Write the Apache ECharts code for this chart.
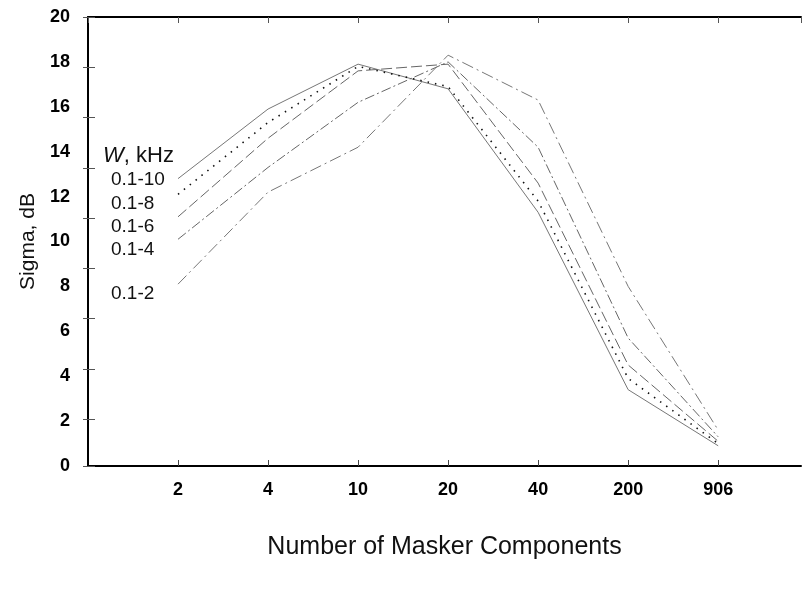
<!DOCTYPE html>
<html>
<head>
<meta charset="utf-8">
<script src="https://cdn.jsdelivr.net/npm/echarts@6/dist/echarts.min.js"></script>
<style>
html,body{margin:0;padding:0;background:#fff;}
#chart{width:802px;height:598px;}
</style>
</head>
<body>
<div id="chart"></div>
<script>
// ---- data ----
const categories = ['2', '4', '10', '20', '40', '200', '906'];
const yTicks = [0, 2, 4, 6, 8, 10, 12, 14, 16, 18, 20];
const seriesNames = ['0.1-10', '0.1-8', '0.1-6', '0.1-4', '0.1-2'];
const s_0_1_10 = [12.8, 15.9, 17.9, 16.8, 11.3, 3.4, 0.9];
const s_0_1_8  = [12.1, 15.3, 17.8, 16.9, 11.8, 3.9, 1.0];
const s_0_1_6  = [11.1, 14.6, 17.6, 17.9, 12.6, 4.5, 1.1];
const s_0_1_4  = [10.1, 13.3, 16.2, 18.0, 14.2, 5.7, 1.3];
const s_0_1_2  = [8.1, 12.2, 14.2, 18.3, 16.3, 8.0, 1.6];
const seriesValues = [s_0_1_10, s_0_1_8, s_0_1_6, s_0_1_4, s_0_1_2];

// ---- build ----
const xMax = 7.92;   // axis runs a little past the last category
const frameTicksMax = 8.93; // secondary (frame) tick scale used on left/right edges
const styles = [
  { color: '#777', type: 'solid', width: 1 },
  { color: '#111', type: [1.5, 6], width: 1.6 },
  { color: '#666', type: [11, 4], width: 1 },
  { color: '#666', type: [10, 3, 2, 3], width: 1 },
  { color: '#777', type: [12, 4, 2, 4], width: 1 }
];
const font = 'Liberation Sans, Arial, sans-serif';
const catLabel = (v) => (Math.abs(v - Math.round(v)) < 1e-6 && categories[Math.round(v) - 1]) || '';

const chart = echarts.init(document.getElementById('chart'), null, { renderer: 'canvas' });
chart.setOption({
  animation: false,
  backgroundColor: '#fff',
  grid: { left: 88, right: 1, top: 17, bottom: 132, containLabel: false },
  xAxis: [
    {
      type: 'value', min: 0, max: xMax, interval: 1, position: 'bottom',
      name: 'Number of Masker Components', nameLocation: 'middle', nameGap: 69,
      nameTextStyle: { fontFamily: font, fontSize: 25, color: '#111' },
      axisLine: { show: true, lineStyle: { color: '#000', width: 2 } },
      axisTick: { show: true, inside: true, length: 6, lineStyle: { color: '#444', width: 1 } },
      axisLabel: { margin: 15, fontFamily: font, fontSize: 18, fontWeight: 'bold', color: '#000',
        showMinLabel: false, showMaxLabel: false, formatter: catLabel },
      splitLine: { show: false }
    },
    {
      type: 'value', position: 'top', min: 0, max: xMax, interval: 1,
      axisLine: { show: true, lineStyle: { color: '#000', width: 2 } },
      axisTick: { show: true, inside: true, length: 6, lineStyle: { color: '#555', width: 1 } },
      axisLabel: { show: false }, splitLine: { show: false }
    }
  ],
  yAxis: [
    {
      type: 'value', min: 0, max: 20, interval: 2, position: 'left',
      name: 'Sigma, dB', nameLocation: 'middle', nameGap: 36, nameRotate: 90,
      nameTextStyle: { fontFamily: font, fontSize: 21, color: '#111' },
      axisLine: { show: true, lineStyle: { color: '#000', width: 2 } },
      axisTick: { show: false },
      axisLabel: { margin: 18, fontFamily: font, fontSize: 18, fontWeight: 'bold', color: '#000',
        formatter: (v) => yTicks.indexOf(v) >= 0 ? String(v) : '' },
      splitLine: { show: false }
    },
    {
      type: 'value', min: 0, max: frameTicksMax, interval: 1, position: 'right', inverse: true,
      axisLine: { show: true, lineStyle: { color: '#000', width: 1 } },
      axisTick: { show: true, inside: true, length: 5, lineStyle: { color: '#555', width: 1 } },
      axisLabel: { show: false }, splitLine: { show: false }
    },
    {
      type: 'value', min: 0, max: frameTicksMax, interval: 1, position: 'left', inverse: true,
      axisLine: { show: false },
      axisTick: { show: true, inside: true, length: 7, lineStyle: { color: '#555', width: 1 } },
      axisLabel: { show: false }, splitLine: { show: false }
    }
  ],
  graphic: [
    { type: 'text', x: 103, y: 156, style: { verticalAlign: 'middle', rich: { i: { fontStyle: 'italic', fontSize: 22, fontFamily: font, fill: '#111' }, n: { fontSize: 22, fontFamily: font, fill: '#111' } }, text: '{i|W}{n|, kHz}' } },
    { type: 'text', x: 111, y: 180, style: { verticalAlign: 'middle', text: seriesNames[0], fontSize: 19, fontFamily: font, fill: '#111' } },
    { type: 'text', x: 111, y: 204, style: { verticalAlign: 'middle', text: seriesNames[1], fontSize: 19, fontFamily: font, fill: '#111' } },
    { type: 'text', x: 111, y: 227, style: { verticalAlign: 'middle', text: seriesNames[2], fontSize: 19, fontFamily: font, fill: '#111' } },
    { type: 'text', x: 111, y: 250, style: { verticalAlign: 'middle', text: seriesNames[3], fontSize: 19, fontFamily: font, fill: '#111' } },
    { type: 'text', x: 111, y: 294, style: { verticalAlign: 'middle', text: seriesNames[4], fontSize: 19, fontFamily: font, fill: '#111' } }
  ],
  series: seriesValues.map((vals, k) => ({
    type: 'line', name: seriesNames[k], xAxisIndex: 0, yAxisIndex: 0,
    data: vals.map((v, i) => [i + 1, v]),
    symbol: 'none', smooth: false,
    lineStyle: styles[k]
  }))
});
</script>
</body>
</html>
